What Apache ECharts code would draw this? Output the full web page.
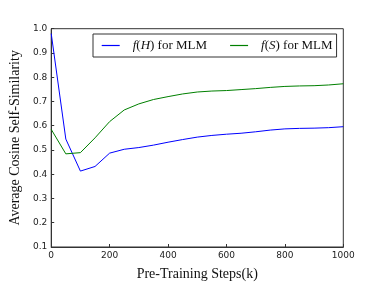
<!DOCTYPE html>
<html><head><meta charset="utf-8">
<script src="https://cdn.jsdelivr.net/npm/echarts@6/dist/echarts.min.js"></script>
<style>html,body{margin:0;padding:0;background:#fff}#c{width:382px;height:286px}</style>
</head><body><div id="c"></div>
<script>
var steps = [0,50,100,150,200,250,300,350,400,450,500,550,600,650,700,750,800,850,900,950,1000];
var fH = [0.98,0.545,0.413,0.432,0.487,0.503,0.51,0.52,0.532,0.543,0.553,0.56,0.565,0.569,0.575,0.582,0.587,0.589,0.59,0.592,0.596];
var fS = [0.585,0.484,0.489,0.55,0.617,0.665,0.69,0.708,0.72,0.731,0.739,0.743,0.745,0.749,0.753,0.758,0.762,0.764,0.765,0.768,0.773];
var seriesNames = ['f(H) for MLM', 'f(S) for MLM'];
var xTicks = [0,200,400,600,800,1000];
var yTicks = [0.1,0.2,0.3,0.4,0.5,0.6,0.7,0.8,0.9,1.0];

function pairs(xs, ys){ return xs.map(function(x,i){return [x, ys[i]];}); }

var chart = echarts.init(document.getElementById('c'));
var serif = 'Liberation Serif';
chart.setOption({
  animation: false,
  backgroundColor: '#fff',
  grid: {left: 48, right: 38.7, top: 28.7, bottom: 28.7, show: true, borderColor: '#333', borderWidth: 1},
  legend: {
    left: 93, top: 34,
    padding: [5, 4, 5, 8.7],
    borderColor: '#333', borderWidth: 1,
    icon: 'rect',
    itemWidth: 18, itemHeight: 1.2, itemGap: 23,
    data: seriesNames,
    formatter: function(n){
      var v = n.charAt(2);
      return '{i|f}{a|(}{i|' + v + '}{a|)} {b|for MLM}';
    },
    textStyle: {
      fontFamily: serif, fontSize: 13, color: '#111', lineHeight: 13,
      rich: {
        a: {fontFamily: serif, fontSize: 13, color: '#111', lineHeight: 13},
        i: {fontFamily: serif, fontStyle: 'italic', fontSize: 13, color: '#111', lineHeight: 13},
        b: {fontFamily: serif, fontSize: 13, color: '#111', lineHeight: 13}
      },
      padding: [0, 0, 0, 8]
    }
  },
  xAxis: {
    type: 'value', min: 0, max: 1000, interval: 200,
    name: 'Pre-Training Steps(k)', nameLocation: 'middle', nameGap: 20,
    nameTextStyle: {fontFamily: serif, fontSize: 14, color: '#111'},
    axisLine: {show: true, lineStyle: {color: '#333'}},
    axisTick: {show: true, inside: true, length: 3, lineStyle: {color: '#333'}},
    axisLabel: {fontFamily: 'DejaVu Sans', fontSize: 9, color: '#222', margin: 4,
      formatter: function(v){ return xTicks.indexOf(v) >= 0 ? String(v) : ''; }},
    splitLine: {show: false}
  },
  yAxis: {
    type: 'value', min: 0.1, max: 1.0, interval: 0.1,
    name: 'Average Cosine Self-Similarity', nameLocation: 'middle', nameGap: 25,
    nameTextStyle: {fontFamily: serif, fontSize: 14, color: '#111'},
    axisLine: {show: true, lineStyle: {color: '#333'}},
    axisTick: {show: true, inside: true, length: 3, lineStyle: {color: '#333'}},
    axisLabel: {fontFamily: 'DejaVu Sans', fontSize: 9, color: '#222', margin: 4,
      formatter: function(v){ return v.toFixed(1); }},
    splitLine: {show: false}
  },
  series: [
    {name: seriesNames[0], type: 'line', data: pairs(steps, fH), symbol: 'none',
     lineStyle: {color: '#0000ff', width: 1}, itemStyle: {color: '#0000ff'}},
    {name: seriesNames[1], type: 'line', data: pairs(steps, fS), symbol: 'none',
     lineStyle: {color: '#008000', width: 1}, itemStyle: {color: '#008000'}}
  ]
});
</script></body></html>
